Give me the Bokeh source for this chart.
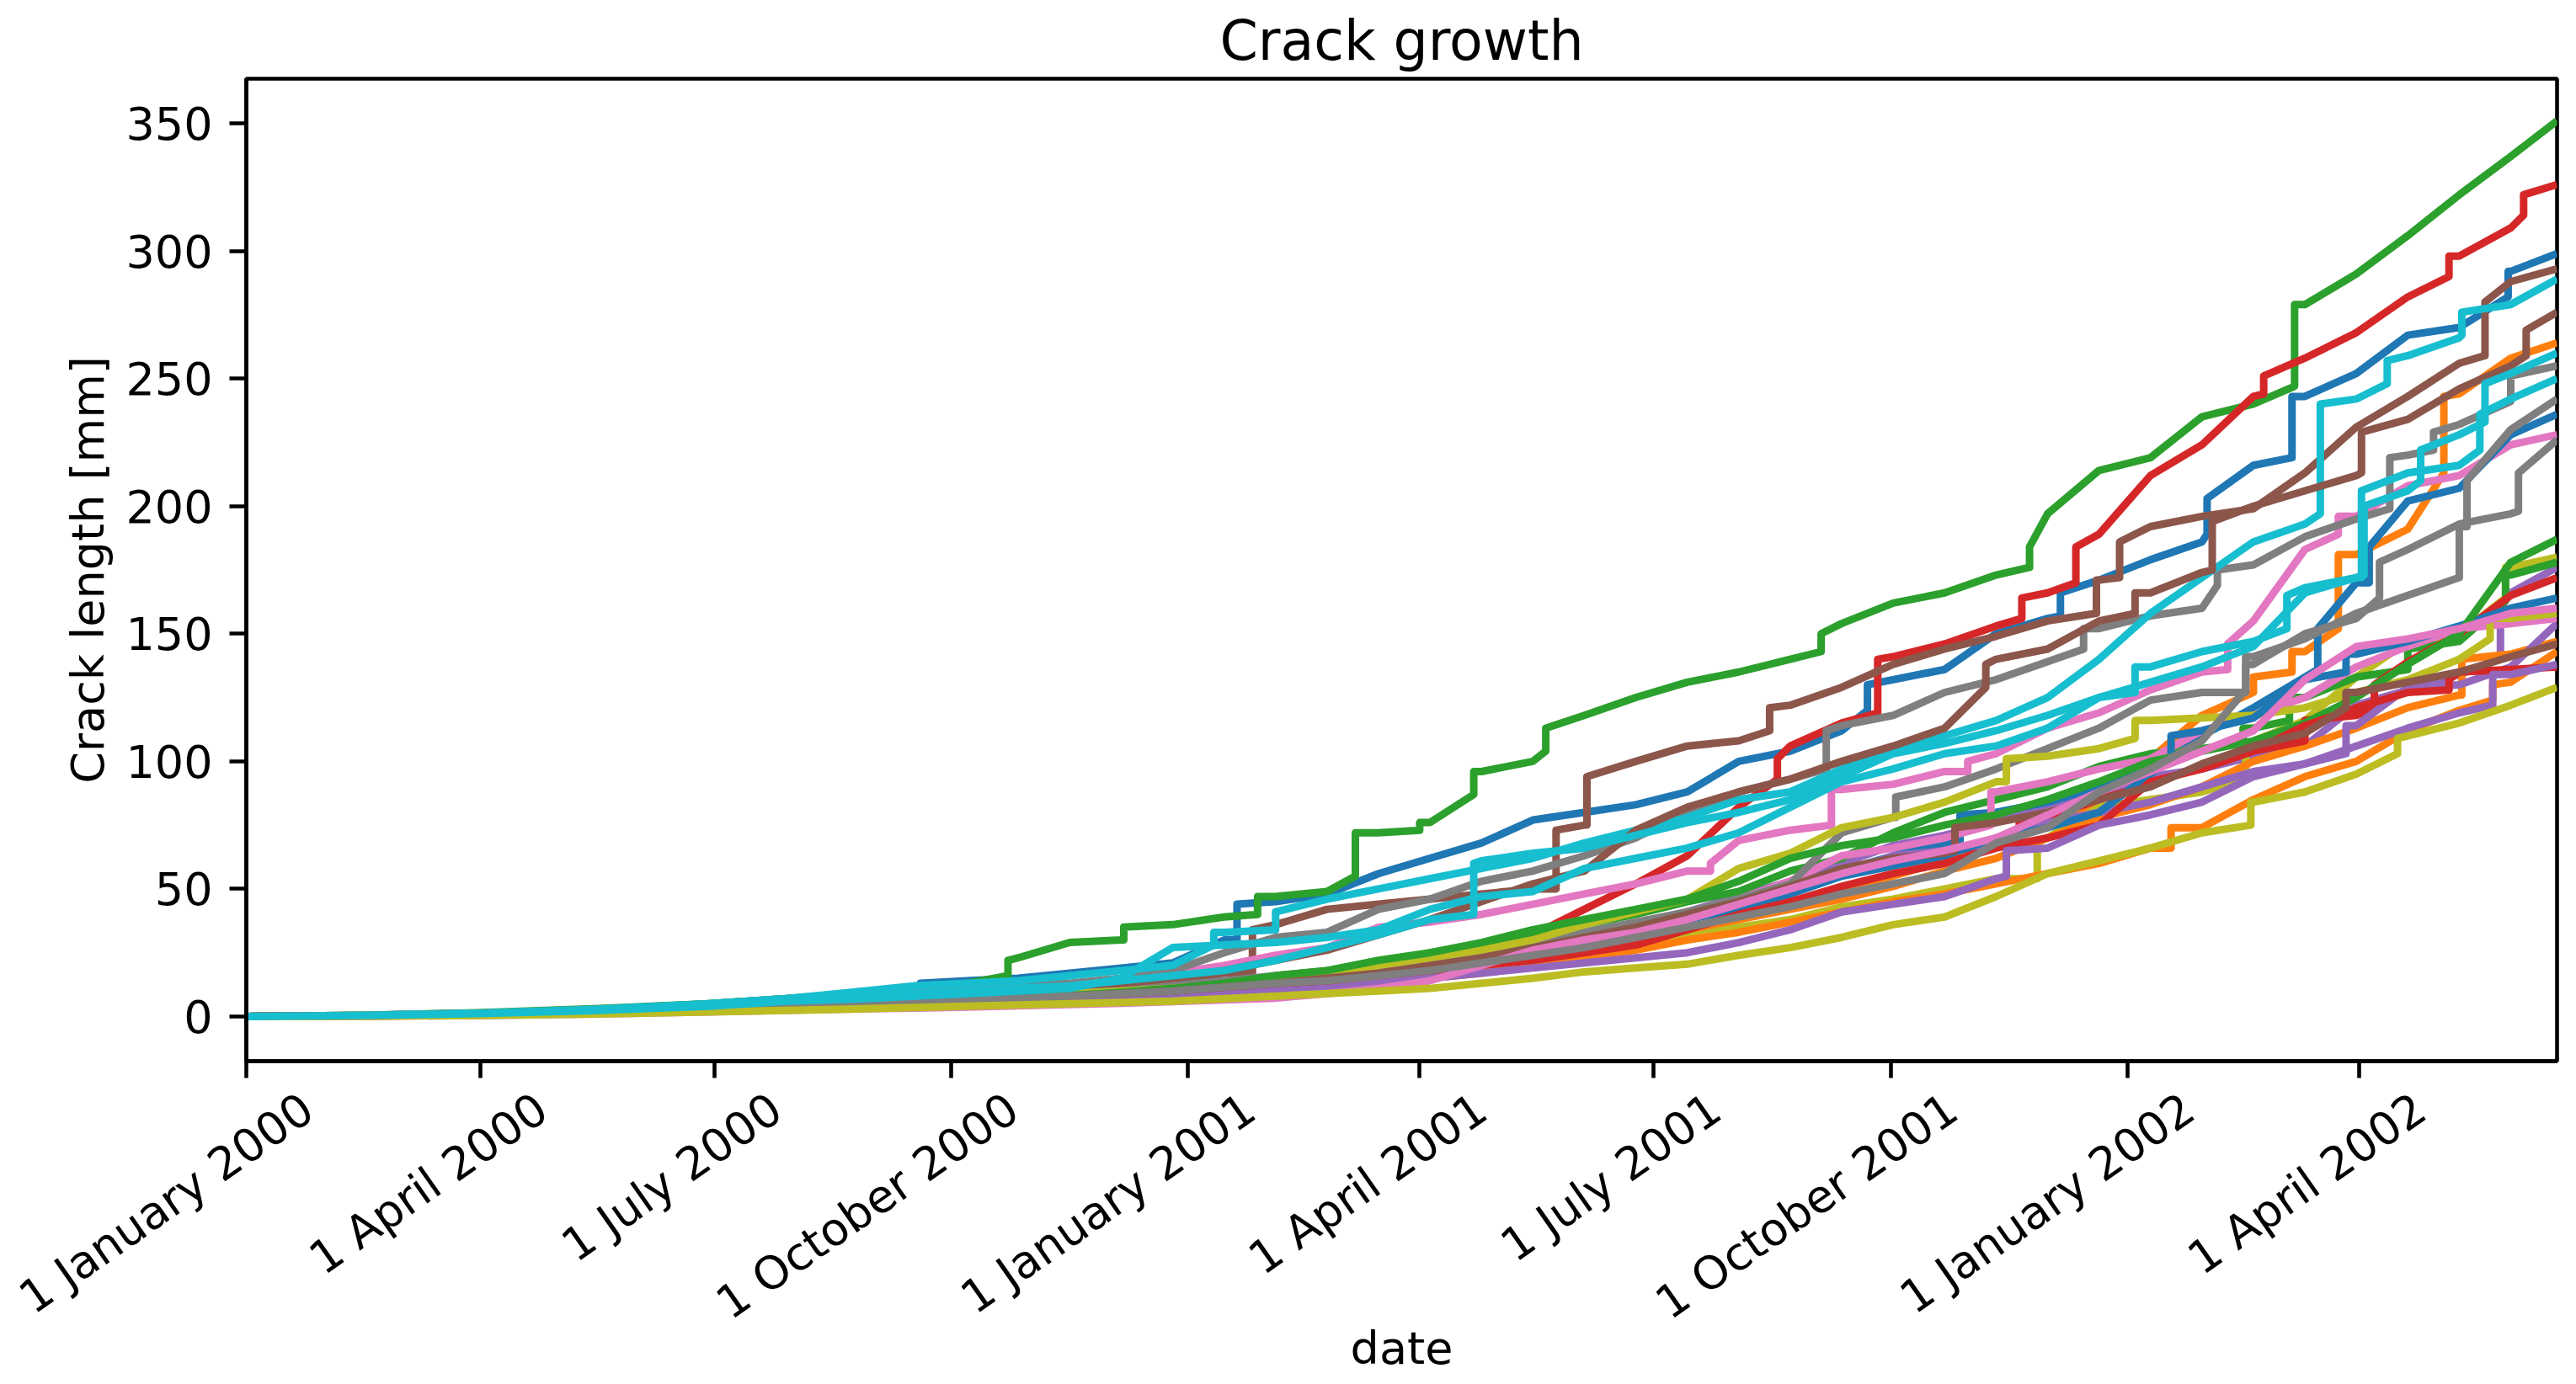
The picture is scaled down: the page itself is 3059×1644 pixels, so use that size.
import numpy as np
from math import radians
from bokeh.plotting import figure
from bokeh.models import Range1d, FixedTicker, DatetimeAxis
from bokeh.embed import file_html
from bokeh.resources import INLINE

DAYS = [0,45,90,135,180,210,
        240,260,280,300,320,340,360,380,400,420,
        440,460,480,500,520,540,560,580,600,620,
        640,660,680,700,720,740,760,780,800,820,
        840,860,880,898]

b1 = [0,.4,1.2,2.5,5,7, 9,9,14,15,17,19,21,30,45,48, 56,62,68,77,80,83,88,100,104,112, 132,136,150,156,171,179,186,216,243,252, 267,270,292,299]
o1 = [0,.3,1,2.2,3.5,4.5, 5,5.5,6,7,7.5,8.5,9.5,11,12.5,14, 16,18.5,21,24,27,31,35,39,45,50, 55,61,68,75,84,101,118,130,143,181, 191,244,258,264]
g1 = [0,.5,1.5,3,5,7, 9.5,11.5,13,23,29,30,36,39,47,49, 72,76,96,100,118,125,131,135,140,154, 162,166,173,197,214,219,235,240,279,291, 306,322,337,351]
r1 = [0,.3,.8,2,3.5,4.5, 5,6,7,8,9,10,11.5,13,15,17, 20,23,26,32,42,52,63,82,106,115, 141,146,153,166,189,212,224,243,258,268, 282,298,309,326]
pu1 = [0,.2,.8,1.8,3,4, 4.5,5,6,6.5,7.5,8.5,10,12,14,16, 18,21,24,27,31,36,41,47,53,60, 67,71,76,83,88,94,97,102,106,122, 128,134,166,176]
br1 = [0,.4,1.2,2.4,4,5.5, 7,8,9,10,11,12,13,17,36,42, 44,46,48,50,75,100,106,108,122,129, 138,144,149,155,171,192,196,199,213,231, 243,256,288,293]
p1 = [0,.3,.9,2,3.5,5, 6.5,8,9,10,12,15,17,20,24,27, 35,37,40,44,48,52,57,69,73,89, 91,96,103,113,119,128,135,155,183,196, 208,212,224,228]
gy1 = [0,.5,1.3,2.7,4.5,6.3, 8,10,11,12,13,15,18,25,31,33, 42,46,53,57,63,70,80,88,93,114, 118,127,132,139,152,157,160,177,188,195, 220,232,250,255]
ol1 = [0,.4,1,2,3,4, 4.5,5,5.5,6,7,8,9,10.5,12,14, 16,18,20,22,25,28,32,35,38,43, 46,50,54,70,82,85,88,108,116,133, 147,150,176,180]
c1 = [0,.5,1.3,2.8,5,7, 10,12,13,14,16,18,20,33,41,46, 50,54,58,62,68,73,78,85,88,97, 105,110,116,125,140,158,172,186,193,242, 259,266,279,289]

b2 = [0,.3,.9,1.9,3.2,4.2, 5,5.5,6.2,7,8,9,10,12,14,16, 18,21,24,27,31,35,40,45,51,57, 63,68,80,84,90,97,110,121,133,170, 202,207,228,236]
o2 = [0,.3,.8,1.7,3,3.9, 4.5,5,5.5,6,6.8,7.8,9,10.5,12,14, 16,18,21,24,27,30,34,38,42,46, 51,57,62,70,78,83,90,100,106,113, 121,126,142,147]
g2 = [0,.2,.7,1.5,2.7,3.6, 4.2,4.8,5.5,6.2,7.2,8.4,10,12,14,16, 20,25,28,32,36,40,45,49,57,62, 72,80,85,90,98,103,105,113,125,133, 136,147,173,178]
r2 = [0,.2,.6,1.5,2.6,3.6, 4.2,4.7,5.5,6,7,8,9,11,13,15, 17,20,24,28,32,36,41,45,50,57, 60,64,68,78,85,91,98,104,116,118, 139,150,165,172]
pu2 = [0,.2,.7,1.6,2.7,3.6, 4,4.5,5.5,6,7,8,9.5,11,13,15, 17,20,23,26,29,34,38,43,49,56, 63,65,68,76,80,84,90,96,99,114, 129,130,137,154]
br2 = [0,.3,1,2.2,3.7,5, 6,7,8,9.5,11,13,15,18,22,26, 32,38,45,52,57,73,82,88,93,100, 106,113,140,144,155,166,174,200,206,212, 234,246,255,276]
p2 = [0,.3,.9,1.9,3.2,4.2, 5,5.5,6.5,7.5,8.5,10,11.5,13,15,17, 19,22,25,28,32,36,41,46,53,63, 66,70,88,92,97,101,112,118,125,137, 145,152,154,156]
gy2 = [0,.3,.9,1.9,3.2,4.5, 6,6.5,7,8,9,10,12,14,16,18, 20,23,26,29,33,37,41,46,52,72, 78,90,97,105,113,124,127,141,148,158, 165,172,230,242]
ol2 = [0,.5,1.1,2.2,3.5,5, 6,6.5,7,8,9,10,11,12.5,14,16, 20,23,26,30,36,41,46,58,64,74, 78,84,92,102,105,116,117,118,121,127, 132,140,156,158]
c2 = [0,.4,1.2,2.5,4.5,6.5, 8,9,10,11,12,14,16,18,22,27, 32,38,61,64,66,71,76,80,85,94, 103,107,112,118,125,137,143,147,168,172, 206,228,252,260]

b3 = [0,.2,.7,1.6,2.8,3.7, 4.3,4.8,5.5,6.2,7,8,9,10.5,12,14, 16,19,22,25,29,33,38,42,48,55, 59,63,70,74,80,95,112,117,132,142, 147,153,160,164]
o3 = [0,.2,.6,1.4,2.5,3.2, 3.8,4.3,4.8,5.3,6,6.8,7.8,9,10,11, 13,15,17,20,23,26,30,33,37,41, 45,48,52,56,60,66,74,85,94,100, 112,120,131,143]
g3 = [0,.3,1,2,3.3,4.3, 5,5.5,6.3,7.2,8.2,9.5,11,13,16,18, 22,25,29,34,38,42,46,53,62,67, 70,75,79,85,92,100,104,108,115,125, 138,150,178,187]
r3 = [0,.2,.5,1.2,2.2,3, 3.5,4,4.5,5,5.5,6.5,7.5,9,10.5,12, 15,17,20,22,25,28,34,40,45,51, 56,60,66,70,75,92,97,104,114,121, 127,135,136,137]
pu3 = [0,.2,.6,1.4,2.4,3.2, 3.6,4,4.5,5,5.5,6,7,8.5,10,11, 13,15,17,19,21,23,25,29,34,41, 44,47,54,66,75,79,84,94,99,106, 113,119,134,138]
br3 = [0,.3,1,2,3.2,4.2, 5,5.5,6,7,8,9,10,11.5,13,15, 17,20,23,27,31,35,40,45,51,58, 62,64,76,80,85,90,99,106,111,127, 131,135,141,146]
p3 = [0,.1,.4,1,1.8,2.5, 3,3.3,3.7,4.2,4.7,5.2,5.8,6.5,7.2,9, 11,14,20,26,30,33,38,44,50,56, 61,65,70,79,88,96,104,112,132,145, 148,152,158,160]
gy3 = [0,.3,.8,1.7,3,4, 5,6,6.5,7,8,9,10,11.5,13,14, 16,18,21,24,27,31,35,39,43,48, 52,56,68,74,88,97,108,138,150,156, 183,193,197,226]
ol3 = [0,.1,.4,1,1.8,2.4, 3,3.5,4,4.5,5,5.5,6,7,8,9, 10,11,13,15,17.5,19,20.5,24,27,31, 36,39,47,56,61,66,72,84,88,95, 110,115,122,129]
c3 = [0,.4,1.1,2.3,4,6, 7,8,9,10,11,15,27,28,29,31, 34,42,47,49,58,62,66,72,82,92, 97,103,106,113,125,131,137,145,166,172, 213,216,242,250]

# sudden jumps: (day, value before, value after)
JUMPS = dict(
    b1=[(262,9,13),(385,30,44),(630,120,130),(705,157,166),(762,189,203),(795,219,243),(879,282,292)],
    o1=[(780,127,133),(795,135,143),(813,152,181),(854,213,243)],
    g1=[(296,16,22),(341,30,35),(393,40,47),(431,55,72),(456,73,76),(477,87,96),(505,104,113),(612,143,150),(693,176,184),(796,247,279)],
    r1=[(595,93,101),(634,119,140),(690,156,164),(711,170,184),(784,244,251),(856,290,298),(885,314,322)],
    pu1=[(876,140,160)],
    br1=[(391,17,34),(509,50,73),(521,75,94),(592,112,121),(719,158,171),(728,172,186),(870,259,280)],
    p1=[(569,57,60),(616,75,89),(669,96,100),(770,136,146),(813,189,196)],
    gy1=[(614,97,112),(714,144,152),(766,169,175),(833,199,219),(850,222,229),(880,241,251)],
    ol1=[(696,54,68),(777,93,106),(878,164,176)],
    c1=[(376,28,33),(400,34,41),(806,197,240),(832,248,257),(861,267,276)],
    b2=[(666,68,79),(805,136,152),(825,170,184)],
    o2=[(861,126,140)],
    g2=[(776,107,113),(794,116,125),(840,136,144),(878,163,173)],
    r2=[(689,68,76),(800,108,116),(827,121,130)],
    pu2=[(816,103,114)],
    br2=[(676,129,138),(734,158,166),(764,175,194),(822,213,229),(886,259,269)],
    p2=[(678,75,88)],
    gy2=[(641,78,86),(777,127,141),(860,172,192),(863,192,210)],
    ol2=[(684,92,101),(734,109,116),(872,148,156)],
    c2=[(477,40,60),(734,127,137),(793,152,165),(823,173,200),(845,210,222),(870,233,248)],
    b3=[(748,101,110),(816,135,142)],
    o3=[(748,66,74),(873,124,130)],
    r3=[(856,128,132)],
    pu3=[(684,55,65),(873,122,134)],
    br3=[(664,65,74),(816,121,127)],
    gy3=[(777,128,138),(829,164,178),(883,198,213)],
    ol3=[(779,75,84),(836,103,109)],
    c3=[(822,172,206),(868,222,236)],
)

NAMES = ["b1","o1","g1","r1","pu1","br1","p1","gy1","ol1","c1",
         "b2","o2","g2","r2","pu2","br2","p2","gy2","ol2","c2",
         "b3","o3","g3","r3","pu3","br3","p3","gy3","ol3","c3"]
SERIES = [b1,o1,g1,r1,pu1,br1,p1,gy1,ol1,c1,
          b2,o2,g2,r2,pu2,br2,p2,gy2,ol2,c2,
          b3,o3,g3,r3,pu3,br3,p3,gy3,ol3,c3]
COLORS = ["#1f77b4","#ff7f0e","#2ca02c","#d62728","#9467bd",
          "#8c564b","#e377c2","#7f7f7f","#bcbd22","#17becf"]

TICK_DATES = ["2000-01-01","2000-04-01","2000-07-01","2000-10-01","2001-01-01",
              "2001-04-01","2001-07-01","2001-10-01","2002-01-01","2002-04-01"]
TICK_LABELS = ["1 January 2000","1 April 2000","1 July 2000","1 October 2000","1 January 2001",
               "1 April 2001","1 July 2001","1 October 2001","1 January 2002","1 April 2002"]
Y_TICKS = [0,50,100,150,200,250,300,350]

START = np.datetime64("2000-01-01")
to_ms = lambda d: float((d - np.datetime64("1970-01-01")) / np.timedelta64(1, "ms"))
tick_ms = [to_ms(np.datetime64(t)) for t in TICK_DATES]
YMIN, YMAX = -17.5, 367.5
X0 = to_ms(START + np.timedelta64(DAYS[0], "D"))
X1 = to_ms(START + np.timedelta64(DAYS[-1], "D"))
LABEL_SHIFT_MS = 24 * 86400000.0

p = figure(width=3043, height=1636, x_axis_type="datetime",
           x_range=Range1d(X0, X1), y_range=Range1d(YMIN, YMAX),
           output_backend="svg", toolbar_location=None,
           min_border_left=292, min_border_right=7, min_border_top=90, min_border_bottom=373,
           background_fill_color="white", border_fill_color="white")
p.extra_x_ranges = {"lab": Range1d(X0 - LABEL_SHIFT_MS, X1 - LABEL_SHIFT_MS)}

for i, (name, s) in enumerate(zip(NAMES, SERIES)):
    pts = sorted([(d, 0, v) for d, v in zip(DAYS, s)]
                 + [(d, 0, a) for d, a, _ in JUMPS.get(name, [])]
                 + [(d, 1, b) for d, _, b in JUMPS.get(name, [])])
    xs = START + np.array([q[0] for q in pts]).astype("timedelta64[D]")
    ys = [q[2] for q in pts]
    p.line(xs, ys, line_width=9, line_color=COLORS[i % 10], line_join="round")

p.title.text = "Crack growth"
p.title.align = "center"
p.title.text_font = "DejaVu Sans"
p.title.text_font_style = "normal"
p.title.text_font_size = "65px"
p.title.text_color = "black"
p.title.standoff = 16

p.grid.visible = False
p.outline_line_color = "black"
p.outline_line_width = 4.6
p.outline_line_alpha = 1

lab_axis = DatetimeAxis(x_range_name="lab")
p.add_layout(lab_axis, "below")

for ax in (p.xaxis[0], p.yaxis[0], lab_axis):
    ax.axis_line_color = "black"
    ax.axis_line_width = 4.6
    ax.major_tick_line_color = "black"
    ax.major_tick_line_width = 4.6
    ax.major_tick_in = 0
    ax.major_tick_out = 20
    ax.minor_tick_line_color = None
    ax.major_label_text_font = "DejaVu Sans"
    ax.major_label_text_font_size = "54px"
    ax.major_label_text_color = "black"
    ax.axis_label_text_font = "DejaVu Sans"
    ax.axis_label_text_font_size = "54px"
    ax.axis_label_text_font_style = "normal"
    ax.axis_label_text_color = "black"

p.yaxis.ticker = FixedTicker(ticks=Y_TICKS)
p.yaxis.major_label_standoff = 20
p.yaxis.axis_label = "Crack length [mm]"
p.yaxis.axis_label_standoff = 10

first = p.below[0]
first.ticker = FixedTicker(ticks=tick_ms)
first.major_label_overrides = {t: "" for t in tick_ms}
first.major_label_text_font_size = "1px"
first.major_label_standoff = 0

lab_axis.ticker = FixedTicker(ticks=tick_ms)
lab_axis.major_label_overrides = {t: s for t, s in zip(tick_ms, TICK_LABELS)}
lab_axis.major_label_orientation = radians(35)
lab_axis.major_label_standoff = 31
lab_axis.axis_line_color = None
lab_axis.major_tick_line_color = None
lab_axis.major_tick_out = 0
lab_axis.axis_label = "date"
lab_axis.axis_label_standoff = -38

open("out.html", "w").write(file_html(p, INLINE))
